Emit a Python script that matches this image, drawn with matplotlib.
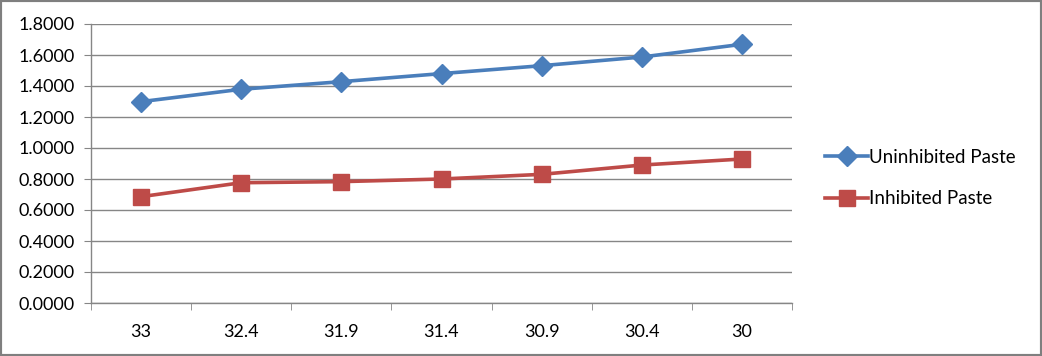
import matplotlib.pyplot as plt
from matplotlib.patches import Rectangle

categories = ['33', '32.4', '31.9', '31.4', '30.9', '30.4', '30']
uninhibited = [1.299, 1.379, 1.428, 1.480, 1.531, 1.587, 1.669]
inhibited = [0.686, 0.776, 0.783, 0.800, 0.830, 0.890, 0.929]
yticks = [0.0, 0.2, 0.4, 0.6, 0.8, 1.0, 1.2, 1.4, 1.6, 1.8]

plt.rcParams['font.family'] = ['Lato', 'DejaVu Sans']

fig = plt.figure(figsize=(10.42, 3.56), dpi=100)
ax = fig.add_axes([91/1042, 1-303/356, (792-91)/1042, (303-24)/356])

x = list(range(len(categories)))
ax.plot(x, uninhibited, color='#4A7EBB', lw=2.6, marker='D', ms=10,
        label='Uninhibited Paste', zorder=3)
ax.plot(x, inhibited, color='#BE4B48', lw=2.6, marker='s', ms=11,
        label='Inhibited Paste', zorder=3)

ax.set_xlim(-0.5, 6.5)
ax.set_ylim(0, 1.8)
ax.set_yticks(yticks)
ax.set_yticklabels(['%.4f' % v for v in yticks])
ax.set_xticks(x)
ax.set_xticklabels(categories)
ax.set_xticks([i - 0.5 for i in range(len(categories) + 1)], minor=True)
ax.tick_params(axis='x', which='major', length=0, pad=15, labelsize=13)
ax.tick_params(axis='x', which='minor', length=5, color='#868686', direction='out')
ax.tick_params(axis='y', length=5, color='#868686', labelsize=13, pad=7)

ax.grid(axis='y', color='#868686', lw=1)
ax.set_axisbelow(True)
for s in ['top', 'right']:
    ax.spines[s].set_visible(False)
for s in ['left', 'bottom']:
    ax.spines[s].set_color('#868686')
    ax.spines[s].set_linewidth(1)

fig.legend(loc='center left', bbox_to_anchor=(825/1042, 1-178/356), frameon=False,
           fontsize=13.5, handlelength=2.3, handletextpad=0.05, labelspacing=1.3,
           borderpad=0, borderaxespad=0)

fig.patches.append(Rectangle((0, 0), 1, 1, transform=fig.transFigure, fill=False,
                             edgecolor='#7F7F7F', lw=3))

plt.savefig('out.png', dpi=100)
